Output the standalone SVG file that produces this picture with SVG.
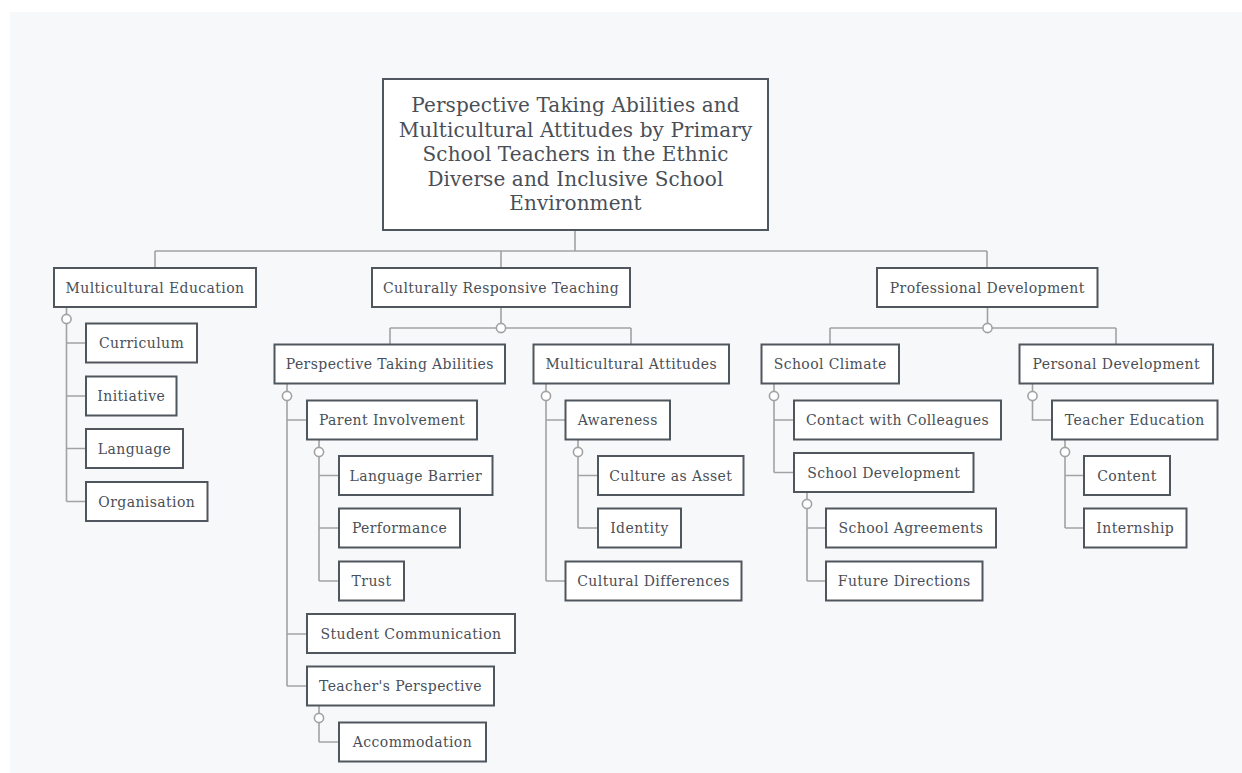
<svg xmlns="http://www.w3.org/2000/svg" width="1242" height="773" viewBox="0 0 1242 773">
<style>
.bg{fill:#f7f8fa}
.box{fill:#ffffff;stroke:#50565d;stroke-width:2}
.t{font-family:"DejaVu Serif","Liberation Serif",serif;font-size:14px;letter-spacing:0.4px;fill:#4a4f57;text-anchor:middle}
.tt{font-family:"DejaVu Serif","Liberation Serif",serif;font-size:20px;letter-spacing:0.1px;fill:#4a4f57;text-anchor:middle}
.c{fill:none;stroke:#a2a2a2;stroke-width:1.6}
.dot{fill:#ffffff;stroke:#a2a2a2;stroke-width:1.6}
</style>
<rect class="bg" x="10" y="12" width="1232" height="761"/>
<g id="connectors">
<path class="c" d="M575 230V251M155 251H987M155 251V267M501 251V267M987 251V267"/>
<path class="c" d="M66.5 307V501.5M66.5 343H86M66.5 396H86M66.5 448.5H86M66.5 501.5H86"/>
<path class="c" d="M501 307V328M390 328H631M390 328V344M631 328V344"/>
<path class="c" d="M287 384V686M287 420H307M287 634H307M287 686H307"/>
<path class="c" d="M319 440V581M319 475.5H339M319 528H339M319 581H339"/>
<path class="c" d="M319 706V742M319 742H339"/>
<path class="c" d="M546 384V581M546 420H565M546 581H565"/>
<path class="c" d="M578 440V528M578 475.5H598M578 528H598"/>
<path class="c" d="M987.5 307V328M830 328H1116M830 328V344M1116 328V344"/>
<path class="c" d="M774 384V472.5M774 420H794M774 472.5H794"/>
<path class="c" d="M807 492V581M807 528H826M807 581H826"/>
<path class="c" d="M1032.5 384V420H1052"/>
<path class="c" d="M1065 440V528M1065 475.5H1084M1065 528H1084"/>
<circle class="dot" cx="66.5" cy="319" r="4.6"/>
<circle class="dot" cx="501" cy="328" r="4.6"/>
<circle class="dot" cx="287" cy="396" r="4.6"/>
<circle class="dot" cx="319" cy="452" r="4.6"/>
<circle class="dot" cx="319" cy="718" r="4.6"/>
<circle class="dot" cx="546" cy="396" r="4.6"/>
<circle class="dot" cx="578" cy="452" r="4.6"/>
<circle class="dot" cx="987.5" cy="328" r="4.6"/>
<circle class="dot" cx="774" cy="396" r="4.6"/>
<circle class="dot" cx="807" cy="504" r="4.6"/>
<circle class="dot" cx="1032.5" cy="396" r="4.6"/>
<circle class="dot" cx="1065" cy="452" r="4.6"/>
</g>
<g id="root">
<rect class="box" x="383" y="79" width="385" height="151"/>
<text class="tt" x="575.5" y="112">Perspective Taking Abilities and</text>
<text class="tt" x="575.5" y="137">Multicultural Attitudes by Primary</text>
<text class="tt" x="575.5" y="161">School Teachers in the Ethnic</text>
<text class="tt" x="575.5" y="186">Diverse and Inclusive School</text>
<text class="tt" x="575.5" y="210">Environment</text>
</g>
<g id="n-multicultural-education"><rect class="box" x="54" y="268" width="202" height="39"/><text class="t" x="155" y="292.5">Multicultural Education</text></g>
<g id="n-curriculum"><rect class="box" x="86" y="323.5" width="111" height="39"/><text class="t" x="141.5" y="348">Curriculum</text></g>
<g id="n-initiative"><rect class="box" x="86" y="376.5" width="90.5" height="39"/><text class="t" x="131.25" y="401">Initiative</text></g>
<g id="n-language"><rect class="box" x="86" y="429" width="97" height="39"/><text class="t" x="134.5" y="453.5">Language</text></g>
<g id="n-organisation"><rect class="box" x="86" y="482" width="121.5" height="39"/><text class="t" x="146.75" y="506.5">Organisation</text></g>
<g id="n-crt"><rect class="box" x="372" y="268" width="258" height="39"/><text class="t" x="501" y="292.5">Culturally Responsive Teaching</text></g>
<g id="n-pta"><rect class="box" x="274.5" y="344.5" width="230.5" height="39"/><text class="t" x="389.75" y="369">Perspective Taking Abilities</text></g>
<g id="n-parent-involvement"><rect class="box" x="307" y="400.5" width="170" height="39"/><text class="t" x="392" y="425">Parent Involvement</text></g>
<g id="n-language-barrier"><rect class="box" x="339" y="456" width="153.5" height="39"/><text class="t" x="415.75" y="480.5">Language Barrier</text></g>
<g id="n-performance"><rect class="box" x="339" y="508.5" width="121" height="39"/><text class="t" x="399.5" y="533">Performance</text></g>
<g id="n-trust"><rect class="box" x="339" y="561.5" width="65" height="39"/><text class="t" x="371.5" y="586">Trust</text></g>
<g id="n-student-communication"><rect class="box" x="307" y="614" width="208" height="39"/><text class="t" x="411" y="638.5">Student Communication</text></g>
<g id="n-teachers-perspective"><rect class="box" x="307" y="666.5" width="187" height="39"/><text class="t" x="400.5" y="691">Teacher's Perspective</text></g>
<g id="n-accommodation"><rect class="box" x="339" y="722.5" width="147" height="39"/><text class="t" x="412.5" y="747">Accommodation</text></g>
<g id="n-multicultural-attitudes"><rect class="box" x="533.5" y="344.5" width="195.5" height="39"/><text class="t" x="631.25" y="369">Multicultural Attitudes</text></g>
<g id="n-awareness"><rect class="box" x="565.5" y="400.5" width="104.5" height="39"/><text class="t" x="617.75" y="425">Awareness</text></g>
<g id="n-culture-as-asset"><rect class="box" x="598" y="456" width="145.5" height="39"/><text class="t" x="670.75" y="480.5">Culture as Asset</text></g>
<g id="n-identity"><rect class="box" x="598" y="508.5" width="83" height="39"/><text class="t" x="639.5" y="533">Identity</text></g>
<g id="n-cultural-differences"><rect class="box" x="565.5" y="561.5" width="176" height="39"/><text class="t" x="653.5" y="586">Cultural Differences</text></g>
<g id="n-professional-development"><rect class="box" x="877" y="268" width="220.5" height="39"/><text class="t" x="987.25" y="292.5">Professional Development</text></g>
<g id="n-school-climate"><rect class="box" x="761.5" y="344.5" width="137.5" height="39"/><text class="t" x="830.25" y="369">School Climate</text></g>
<g id="n-contact-with-colleagues"><rect class="box" x="794" y="400.5" width="207" height="39"/><text class="t" x="897.5" y="425">Contact with Colleagues</text></g>
<g id="n-school-development"><rect class="box" x="794" y="453" width="179.5" height="39"/><text class="t" x="883.75" y="477.5">School Development</text></g>
<g id="n-school-agreements"><rect class="box" x="826" y="508.5" width="170" height="39"/><text class="t" x="911" y="533">School Agreements</text></g>
<g id="n-future-directions"><rect class="box" x="826" y="561.5" width="156.5" height="39"/><text class="t" x="904.25" y="586">Future Directions</text></g>
<g id="n-personal-development"><rect class="box" x="1019.5" y="344.5" width="193.5" height="39"/><text class="t" x="1116.25" y="369">Personal Development</text></g>
<g id="n-teacher-education"><rect class="box" x="1052" y="400.5" width="165.5" height="39"/><text class="t" x="1134.75" y="425">Teacher Education</text></g>
<g id="n-content"><rect class="box" x="1084" y="456" width="86" height="39"/><text class="t" x="1127" y="480.5">Content</text></g>
<g id="n-internship"><rect class="box" x="1084" y="508.5" width="102.5" height="39"/><text class="t" x="1135.25" y="533">Internship</text></g>
</svg>
